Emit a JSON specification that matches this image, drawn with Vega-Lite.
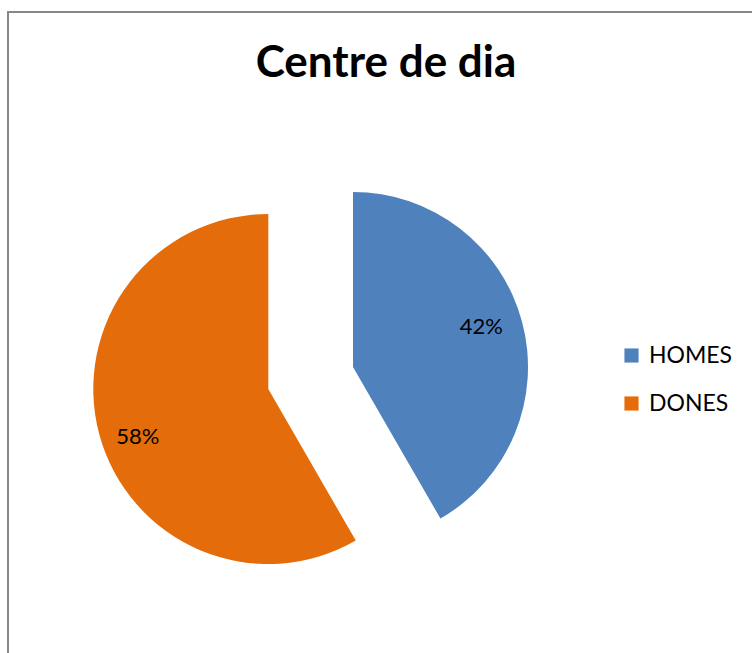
{
  "$schema": "https://vega.github.io/schema/vega-lite/v6.json",
  "width": 744,
  "height": 641,
  "autosize": {"type": "none"},
  "padding": {"left": 8, "top": 12, "right": 0, "bottom": 0},
  "background": "white",
  "view": {"stroke": "#888888", "strokeWidth": 2, "strokeDash": [744, 1385, 641]},
  "title": {
    "text": "Centre de dia",
    "font": "Lato",
    "fontSize": 44,
    "fontWeight": "bold",
    "color": "black",
    "anchor": "middle",
    "frame": "group",
    "baseline": "alphabetic",
    "offset": -109,
    "dx": 6
  },
  "data": {
    "values": [
      {"category": "HOMES", "value": 41.67, "label": "42%", "order": 1},
      {"category": "DONES", "value": 58.33, "label": "58%", "order": 2}
    ]
  },
  "encoding": {
    "theta": {"field": "value", "type": "quantitative", "stack": true},
    "order": {"field": "order", "type": "quantitative"}
  },
  "layer": [
    {
      "mark": {"type": "arc", "outerRadius": 175, "xOffset": -27, "yOffset": 34.5},
      "encoding": {
        "color": {
          "field": "category",
          "type": "nominal",
          "scale": {"domain": ["HOMES", "DONES"], "range": ["#4F81BD", "#E46C0A"]},
          "legend": {
            "orient": "none",
            "legendX": 612,
            "legendY": 332,
            "title": null,
            "symbolType": "square",
            "symbolSize": 200,
            "symbolStrokeWidth": 0,
            "labelFont": "Lato",
            "labelFontSize": 23,
            "labelColor": "black",
            "labelOffset": 6,
            "rowPadding": 24
          }
        },
        "opacity": {"condition": {"test": "datum.category === 'HOMES'", "value": 1}, "value": 0}
      }
    },
    {
      "mark": {"type": "arc", "outerRadius": 175, "xOffset": -111.7, "yOffset": 56.5},
      "encoding": {
        "color": {"field": "category", "type": "nominal"},
        "opacity": {"condition": {"test": "datum.category === 'DONES'", "value": 1}, "value": 0}
      }
    },
    {
      "mark": {"type": "text", "radius": 136, "font": "Lato", "fontSize": 22, "color": "black", "align": "center", "baseline": "middle", "xOffset": -27, "yOffset": 34.5, "dx": -3, "dy": -5},
      "encoding": {
        "text": {"field": "label", "type": "nominal"},
        "detail": {"field": "category", "type": "nominal"},
        "opacity": {"condition": {"test": "datum.category === 'HOMES'", "value": 1}, "value": 0}
      }
    },
    {
      "mark": {"type": "text", "radius": 136, "font": "Lato", "fontSize": 22, "color": "black", "align": "center", "baseline": "middle", "xOffset": -111.7, "yOffset": 56.5, "dx": 1, "dy": 13},
      "encoding": {
        "text": {"field": "label", "type": "nominal"},
        "detail": {"field": "category", "type": "nominal"},
        "opacity": {"condition": {"test": "datum.category === 'DONES'", "value": 1}, "value": 0}
      }
    }
  ]
}
